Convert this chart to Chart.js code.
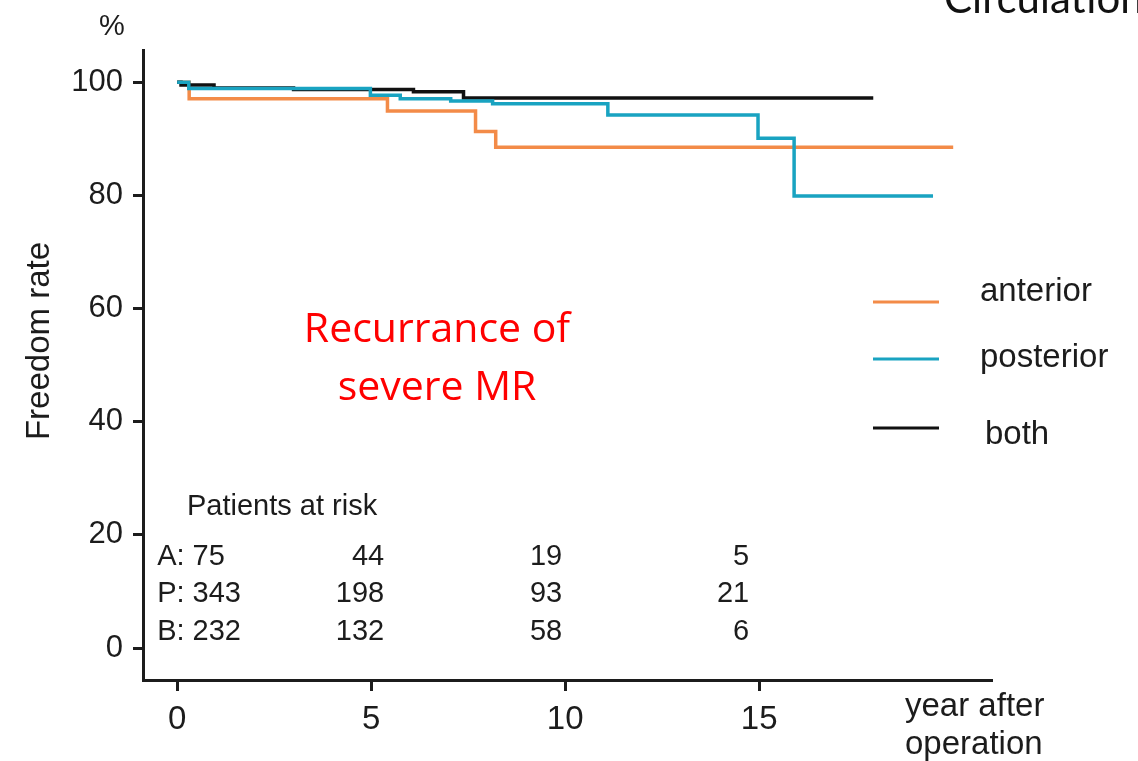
<!DOCTYPE html>
<html>
<head>
<meta charset="utf-8">
<script src="https://cdn.jsdelivr.net/npm/chart.js@4.4.1/dist/chart.umd.min.js"></script>
<style>
  html, body { margin: 0; padding: 0; background: #ffffff; }
  #wrap { width: 1138px; height: 761px; position: relative; }
  #km { display: block; }
</style>
</head>
<body>
<div id="wrap"><canvas id="km" width="1138" height="761"></canvas></div>
<script>
// Kaplan-Meier freedom from recurrence of severe MR, by leaflet involvement
const seriesNames = ['anterior', 'posterior', 'both'];

const anteriorYears = [0, 0.31, 5.42, 7.69, 8.21, 20.0];
const anteriorFree  = [100, 97.1, 94.9, 91.3, 88.5, 88.5];

const posteriorYears = [0, 0.3, 4.98, 5.75, 7.05, 8.13, 11.1, 14.97, 15.9, 19.48];
const posteriorFree  = [100, 98.9, 97.7, 97.1, 96.7, 96.2, 94.2, 90.1, 79.9, 79.9];

const bothYears = [0, 0.1, 0.95, 3.0, 6.09, 7.38, 17.94];
const bothFree  = [100, 99.5, 99.0, 98.7, 98.3, 97.2, 97.2];

const xTickValues = [0, 5, 10, 15];
const yTickValues = [0, 20, 40, 60, 80, 100];

// patients at risk table
const riskYears  = [0, 5, 10, 15];
const riskGroups = ['A', 'P', 'B'];
const riskA = [75, 44, 19, 5];
const riskP = [343, 198, 93, 21];
const riskB = [232, 132, 58, 6];

const toPoints = (xs, ys) => xs.map((x, i) => ({ x: x, y: ys[i] }));

const INK = '#1c1c1c';
const FONT = '"Liberation Sans", Arial, Helvetica, sans-serif';
const COLORS = ['#f38b48', '#19a3c1', '#111111'];

const overlay = {
  id: 'overlay',
  afterDraw(chart) {
    const ctx = chart.ctx;
    const xs = chart.scales.x;
    ctx.save();

    // journal name, partly off the page edge
    ctx.fillStyle = '#111';
    ctx.font = '42px Lato, "Open Sans", sans-serif';
    ctx.textAlign = 'left';
    ctx.textBaseline = 'alphabetic';
    ctx.fillText('Circulation', 944, 13);

    // unit above the y axis
    ctx.fillStyle = INK;
    ctx.font = '29px ' + FONT;
    ctx.textAlign = 'center';
    ctx.textBaseline = 'middle';
    ctx.fillText('%', 112, 27);

    // y axis title
    ctx.save();
    ctx.translate(40, 341);
    ctx.rotate(-Math.PI / 2);
    ctx.font = '33px ' + FONT;
    ctx.fillText('Freedom rate', 0, 0);
    ctx.restore();

    // x axis title
    ctx.textAlign = 'left';
    ctx.font = '33px ' + FONT;
    ctx.fillText('year after', 905, 707);
    ctx.fillText('operation', 905, 745);

    // red caption
    ctx.fillStyle = '#ff0000';
    ctx.textAlign = 'center';
    ctx.font = '41px "Open Sans", Lato, sans-serif';
    ctx.fillText('Recurrance of', 437, 330);
    ctx.fillText('severe MR', 437, 388);

    // legend
    const legendLineY = [302, 359, 428];
    const legendTextY = [292, 358, 435];
    const legendTextX = [980, 980, 985];
    ctx.font = '33px ' + FONT;
    ctx.textAlign = 'left';
    chart.data.datasets.forEach((ds, i) => {
      ctx.strokeStyle = ds.borderColor;
      ctx.lineWidth = 3;
      ctx.beginPath();
      ctx.moveTo(873, legendLineY[i]);
      ctx.lineTo(939, legendLineY[i]);
      ctx.stroke();
      ctx.fillStyle = INK;
      ctx.fillText(ds.label, legendTextX[i], legendTextY[i]);
    });

    // patients at risk
    ctx.fillStyle = INK;
    ctx.font = '29px ' + FONT;
    ctx.textAlign = 'left';
    ctx.fillText('Patients at risk', 187, 507);
    const rows = [riskA, riskP, riskB];
    const rowY = [557, 594, 632];
    const colShift = [-20, 13, -3, -10];
    rows.forEach((row, r) => {
      row.forEach((n, c) => {
        const px = xs.getPixelForValue(riskYears[c]) + colShift[c];
        if (c === 0) {
          ctx.textAlign = 'left';
          ctx.fillText(riskGroups[r] + ': ' + n, px, rowY[r]);
        } else {
          ctx.textAlign = 'right';
          ctx.fillText(String(n), px, rowY[r]);
        }
      });
    });

    ctx.restore();
  }
};

new Chart(document.getElementById('km'), {
  type: 'line',
  data: {
    datasets: [
      { label: seriesNames[0], data: toPoints(anteriorYears, anteriorFree), borderColor: COLORS[0], order: 3 },
      { label: seriesNames[1], data: toPoints(posteriorYears, posteriorFree), borderColor: COLORS[1], order: 1 },
      { label: seriesNames[2], data: toPoints(bothYears, bothFree), borderColor: COLORS[2], order: 2 }
    ].map(d => Object.assign(d, {
      stepped: 'before',
      borderWidth: 3.5,
      pointRadius: 0,
      fill: false,
      tension: 0
    }))
  },
  options: {
    responsive: false,
    animation: false,
    devicePixelRatio: 1,
    layout: { padding: { top: 50, right: 146, left: 0, bottom: 0 } },
    plugins: { legend: { display: false }, tooltip: { enabled: false } },
    scales: {
      x: {
        type: 'linear',
        min: -0.88,
        max: 21,
        afterBuildTicks: s => { s.ticks = xTickValues.map(v => ({ value: v })); },
        afterFit: s => { s.height = 81; },
        grid: { display: true, drawOnChartArea: false, drawTicks: true, tickLength: 11, tickWidth: 3, tickColor: INK },
        border: { display: true, width: 3, color: INK },
        ticks: { color: INK, font: { family: FONT, size: 33 }, padding: 9, maxRotation: 0 }
      },
      y: {
        type: 'linear',
        min: -5.65,
        max: 105.7,
        afterBuildTicks: s => { s.ticks = yTickValues.map(v => ({ value: v })); },
        afterFit: s => { s.width = 143; },
        grid: { display: true, drawOnChartArea: false, drawTicks: true, tickLength: 10, tickWidth: 3, tickColor: INK },
        border: { display: true, width: 3, color: INK },
        ticks: { color: INK, font: { family: FONT, size: 31 }, padding: 10 }
      }
    }
  },
  plugins: [overlay]
});
</script>
</body>
</html>
